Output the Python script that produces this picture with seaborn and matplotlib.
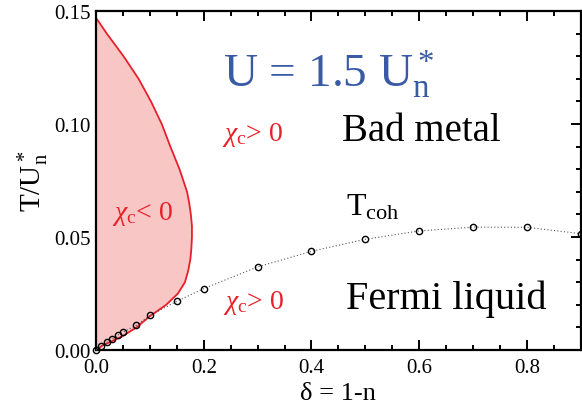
import numpy as np
import pandas as pd
import matplotlib
matplotlib.use("Agg")
import matplotlib.pyplot as plt
import seaborn as sns

# coherence temperature T_coh vs doping
delta = [0.0, 0.01, 0.02, 0.03, 0.04, 0.05, 0.075, 0.1, 0.15, 0.2,
         0.3, 0.4, 0.5, 0.6, 0.7, 0.8, 0.9]
t_coh = [0.0, 0.0019, 0.0034, 0.0049, 0.0066, 0.0079, 0.0110, 0.0153, 0.0216, 0.0272,
         0.0368, 0.0437, 0.0490, 0.0527, 0.0544, 0.0543, 0.0515]

# boundary of the chi_c < 0 region
bound_t = [0.000, 0.002, 0.006, 0.010, 0.015, 0.020, 0.025, 0.030, 0.035, 0.040,
           0.045, 0.050, 0.055, 0.060, 0.065, 0.070, 0.080, 0.090, 0.100, 0.110,
           0.120, 0.130, 0.140, 0.147]
bound_d = [0.000, 0.012, 0.048, 0.075, 0.100, 0.130, 0.152, 0.165, 0.171, 0.175,
           0.177, 0.178, 0.178, 0.176, 0.173, 0.169, 0.155, 0.138, 0.122, 0.102,
           0.079, 0.051, 0.020, 0.000]

sns.set_style("ticks")
plt.rcParams["font.family"] = ["Liberation Serif", "DejaVu Serif"]
plt.rcParams["mathtext.fontset"] = "custom"
plt.rcParams["mathtext.rm"] = "Liberation Serif"
plt.rcParams["mathtext.it"] = "Liberation Serif:italic"
plt.rcParams["text.color"] = "black"
plt.rcParams["axes.labelcolor"] = "black"
plt.rcParams["xtick.color"] = "black"
plt.rcParams["ytick.color"] = "black"
plt.rcParams["axes.edgecolor"] = "black"

red = "#e8202a"
blue = "#3b5aa6"

fig, ax = plt.subplots(figsize=(5.82, 4.14), dpi=100)
fig.subplots_adjust(left=0.165, right=0.998, top=0.971, bottom=0.152)

ax.fill_betweenx(bound_t, 0, bound_d, color="#f9c6c6", lw=0, zorder=1)
sns.lineplot(x=bound_d, y=bound_t, sort=False, estimator=None, color=red, lw=1.3,
             ax=ax, zorder=2)

sns.lineplot(x=delta, y=t_coh, ax=ax, estimator=None, color="#555555", lw=0.8,
             linestyle=(0, (1, 2)), marker="o", markersize=4.5, markerfacecolor="none",
             markeredgecolor="black", markeredgewidth=1.0, zorder=3, clip_on=False)

ax.set_xlim(0, 0.9)
ax.set_ylim(0, 0.15)
ax.set_xticks([0.0, 0.2, 0.4, 0.6, 0.8])
ax.set_xticklabels(["0.0", "0.2", "0.4", "0.6", "0.8"])
ax.set_yticks([0.0, 0.05, 0.10, 0.15])
ax.set_yticklabels(["0.00", "0.05", "0.10", "0.15"])
ax.set_xticks(np.arange(0, 0.91, 0.05), minor=True)
ax.set_yticks(np.arange(0, 0.151, 0.01), minor=True)
ax.tick_params(which="both", direction="in", top=True, right=True, labelsize=15, width=1.4)
ax.tick_params(which="major", length=7)
ax.tick_params(which="minor", length=3.5)
ax.tick_params(axis="x", which="major", pad=6)
ax.tick_params(axis="y", which="major", pad=4)
for s in ax.spines.values():
    s.set_linewidth(1.6)

ax.set_xlabel("δ = 1-n", fontsize=19, labelpad=3)
ax.set_ylabel(r"T/U$_\mathrm{n}^*$", fontsize=21, labelpad=2)

ax.text(0.235, 0.1166, r"U = 1.5 U$_\mathrm{n}^*$", color=blue, fontsize=34)
ax.text(0.457, 0.0931, "Bad metal", fontsize=28)
ax.text(0.464, 0.0188, "Fermi liquid", fontsize=29)
ax.text(0.464, 0.0600, r"T$_\mathrm{coh}$", fontsize=23)
ax.text(0.233, 0.0931, r"$\chi_\mathrm{c}$> 0", color=red, fontsize=20)
ax.text(0.029, 0.0578, r"$\chi_\mathrm{c}$< 0", color=red, fontsize=20)
ax.text(0.236, 0.0188, r"$\chi_\mathrm{c}$> 0", color=red, fontsize=20)

fig.savefig("out.png", dpi=100)
